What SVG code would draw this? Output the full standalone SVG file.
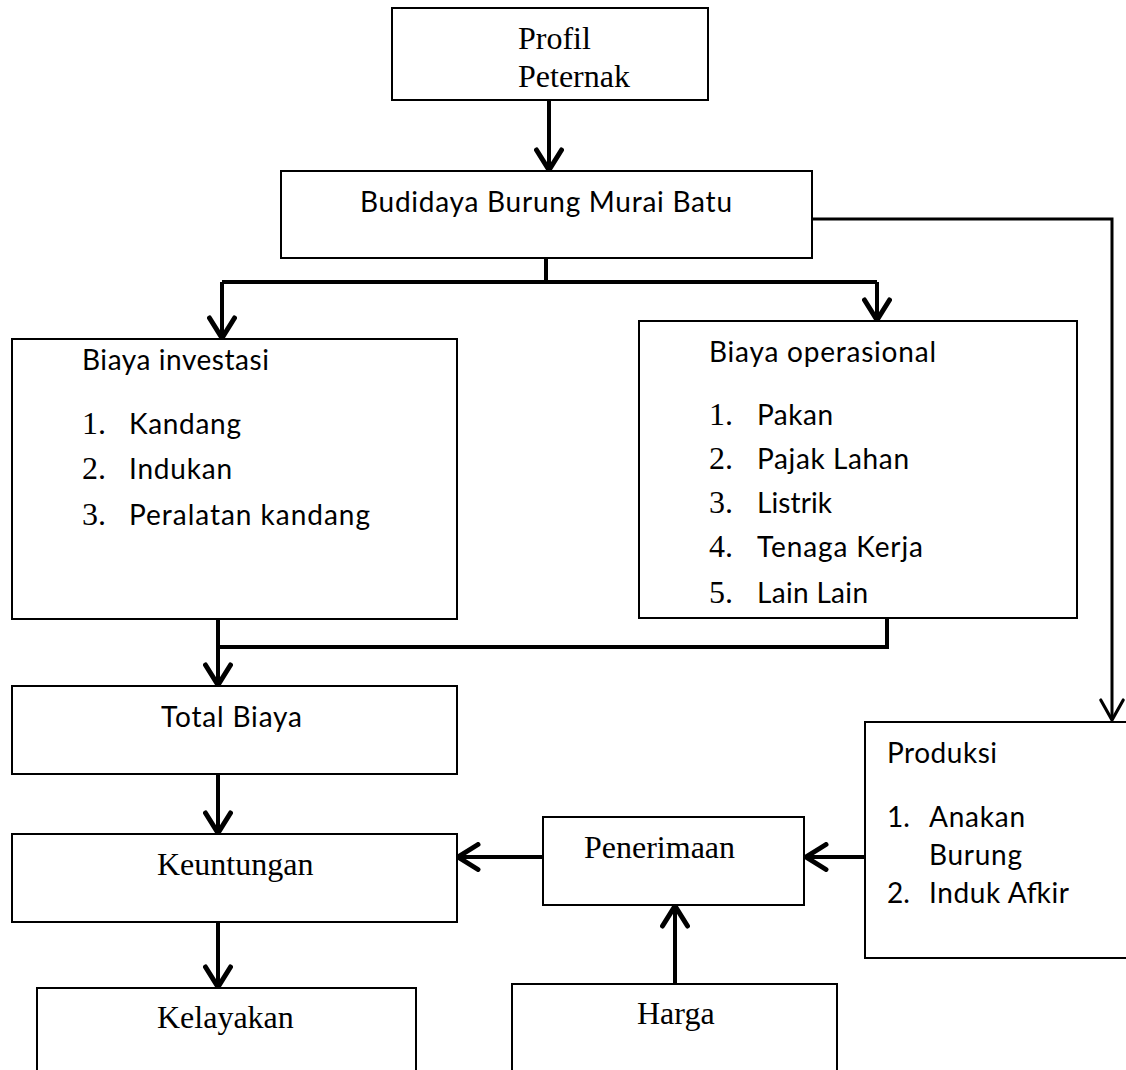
<svg xmlns="http://www.w3.org/2000/svg" width="1126" height="1070" viewBox="0 0 1126 1070">
<defs>
<marker id="ah" markerUnits="userSpaceOnUse" markerWidth="30" markerHeight="30" viewBox="-20 -12 24 24" refX="0" refY="0" orient="auto">
<path d="M -16,-10 L 0,0 L -16,10" fill="none" stroke="#000" stroke-width="4" stroke-linecap="round" stroke-linejoin="miter"/>
</marker>
<marker id="ahs" markerUnits="userSpaceOnUse" markerWidth="30" markerHeight="30" viewBox="-20 -12 24 24" refX="0" refY="0" orient="auto">
<path d="M -16,-9 L 0,0 L -16,9" fill="none" stroke="#000" stroke-width="2.5" stroke-linecap="round"/>
</marker>
</defs>
<style>
.box{fill:#fff;stroke:#000;stroke-width:2}
.c{fill:none;stroke:#000;stroke-width:4}
.ct{fill:none;stroke:#000;stroke-width:3}
.tm{font-family:"Liberation Serif","Times New Roman",serif;font-size:32px;fill:#000}
.sn{font-family:Lato,"Liberation Sans",sans-serif;font-size:28px;fill:#000}
</style>
<rect width="1126" height="1070" fill="#fff"/>
<g id="connectors">
<line class="c" x1="549" y1="100" x2="549" y2="170" marker-end="url(#ah)"/>
<polyline class="c" points="546,258 546,282"/>
<polyline class="c" points="222,282 877,282"/>
<line class="c" x1="222" y1="282" x2="222" y2="338" marker-end="url(#ah)"/>
<line class="c" x1="877" y1="282" x2="877" y2="320" marker-end="url(#ah)"/>
<polyline class="ct" points="812,219 1112,219 1112,720" marker-end="url(#ahs)"/>
<polyline class="c" points="887,618 887,647 218,647"/>
<line class="c" x1="218" y1="619" x2="218" y2="685" marker-end="url(#ah)"/>
<line class="c" x1="218" y1="774" x2="218" y2="833" marker-end="url(#ah)"/>
<line class="c" x1="218" y1="922" x2="218" y2="987" marker-end="url(#ah)"/>
<line class="c" x1="866" y1="857" x2="806" y2="857" marker-end="url(#ah)"/>
<line class="c" x1="543" y1="857" x2="458" y2="857" marker-end="url(#ah)"/>
<line class="c" x1="675" y1="984" x2="675" y2="906" marker-end="url(#ah)"/>
</g>
<g id="profil">
<rect class="box" x="392" y="8" width="316" height="92"/>
<text class="tm" x="518" y="49">Profil</text>
<text class="tm" x="518" y="87">Peternak</text>
</g>
<g id="budidaya">
<rect class="box" x="281" y="171" width="531" height="87"/>
<text class="sn" x="360" y="212" textLength="372">Budidaya Burung Murai Batu</text>
</g>
<g id="investasi">
<rect class="box" x="12" y="339" width="445" height="280"/>
<text class="sn" x="82" y="370" textLength="187">Biaya investasi</text>
<text class="tm" x="82" y="434">1.</text><text class="sn" x="129" y="434" textLength="112">Kandang</text>
<text class="tm" x="82" y="479">2.</text><text class="sn" x="129" y="479" textLength="103">Indukan</text>
<text class="tm" x="82" y="525">3.</text><text class="sn" x="129" y="525" textLength="241">Peralatan kandang</text>
</g>
<g id="operasional">
<rect class="box" x="639" y="321" width="438" height="297"/>
<text class="sn" x="709" y="362" textLength="227">Biaya operasional</text>
<text class="tm" x="709" y="425">1.</text><text class="sn" x="757" y="425" textLength="76">Pakan</text>
<text class="tm" x="709" y="469">2.</text><text class="sn" x="757" y="469" textLength="152">Pajak Lahan</text>
<text class="tm" x="709" y="513">3.</text><text class="sn" x="757" y="513" textLength="75">Listrik</text>
<text class="tm" x="709" y="557">4.</text><text class="sn" x="757" y="557" textLength="166">Tenaga Kerja</text>
<text class="tm" x="709" y="603">5.</text><text class="sn" x="757" y="603" textLength="111">Lain Lain</text>
</g>
<g id="total-biaya">
<rect class="box" x="12" y="686" width="445" height="88"/>
<text class="sn" x="161" y="727" textLength="141">Total Biaya</text>
</g>
<g id="keuntungan">
<rect class="box" x="12" y="834" width="445" height="88"/>
<text class="tm" x="157" y="875">Keuntungan</text>
</g>
<g id="kelayakan">
<rect class="box" x="37" y="988" width="379" height="110"/>
<text class="tm" x="157" y="1028">Kelayakan</text>
</g>
<g id="penerimaan">
<rect class="box" x="543" y="817" width="261" height="88"/>
<text class="tm" x="584" y="858">Penerimaan</text>
</g>
<g id="harga">
<rect class="box" x="512" y="984" width="325" height="110"/>
<text class="tm" x="637" y="1024">Harga</text>
</g>
<g id="produksi">
<rect class="box" x="865" y="722" width="280" height="236"/>
<text class="sn" x="887" y="763" textLength="110">Produksi</text>
<text class="sn" x="887" y="827">1.</text><text class="sn" x="929" y="827" textLength="96">Anakan</text>
<text class="sn" x="929" y="865" textLength="93">Burung</text>
<text class="sn" x="887" y="903">2.</text><text class="sn" x="929" y="903" textLength="140">Induk Afkir</text>
</g>
</svg>
